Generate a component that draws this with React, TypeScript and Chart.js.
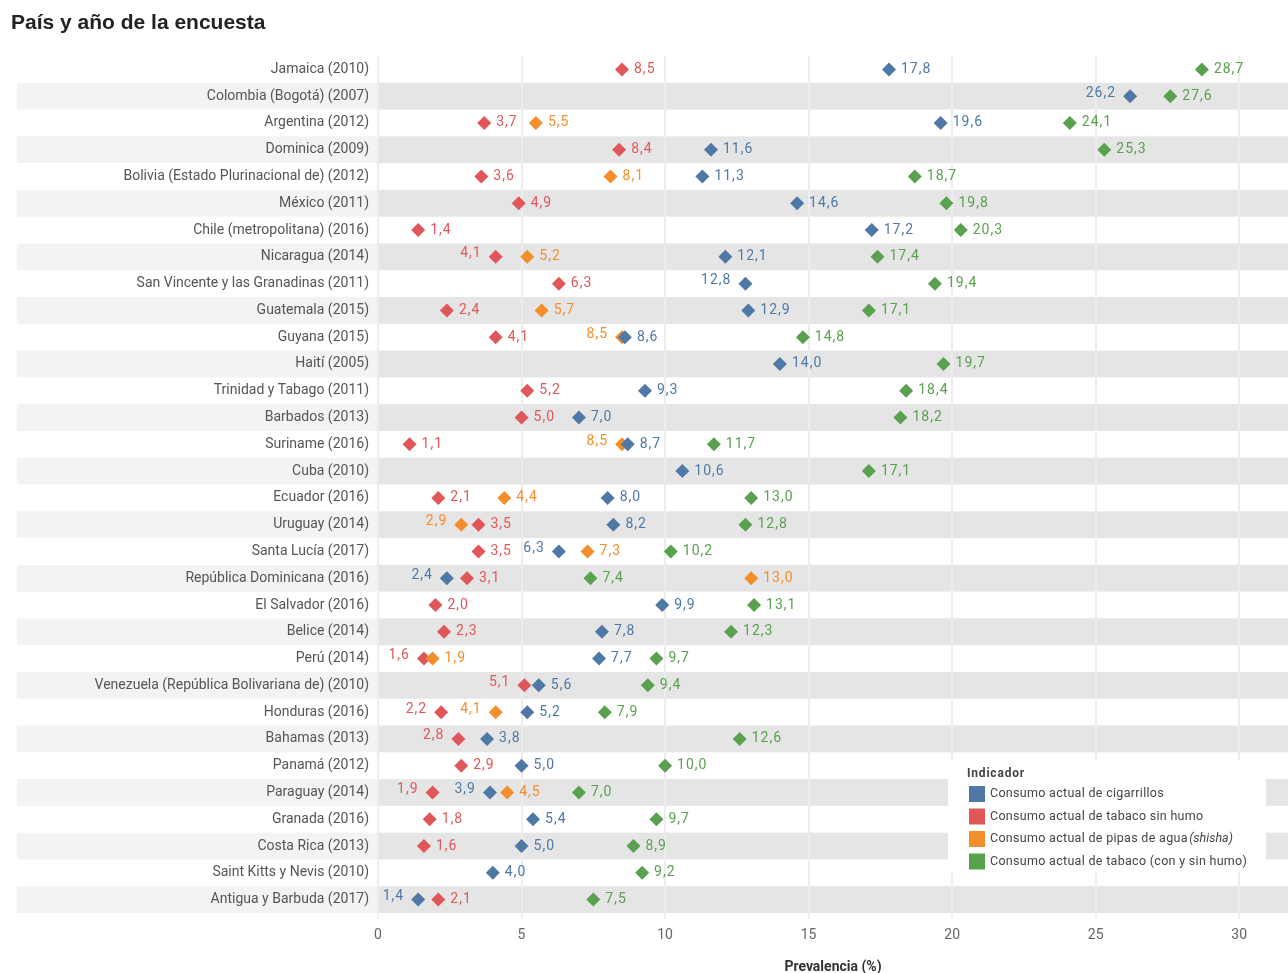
import { useEffect, useRef } from "react";
import { Chart, registerables } from "chart.js";

Chart.register(...registerables);

const countries = [
  "Jamaica (2010)",
  "Colombia (Bogotá) (2007)",
  "Argentina (2012)",
  "Dominica (2009)",
  "Bolivia (Estado Plurinacional de) (2012)",
  "México (2011)",
  "Chile (metropolitana) (2016)",
  "Nicaragua (2014)",
  "San Vincente y las Granadinas (2011)",
  "Guatemala (2015)",
  "Guyana (2015)",
  "Haití (2005)",
  "Trinidad y Tabago (2011)",
  "Barbados (2013)",
  "Suriname (2016)",
  "Cuba (2010)",
  "Ecuador (2016)",
  "Uruguay (2014)",
  "Santa Lucía (2017)",
  "República Dominicana (2016)",
  "El Salvador (2016)",
  "Belice (2014)",
  "Perú (2014)",
  "Venezuela (República Bolivariana de) (2010)",
  "Honduras (2016)",
  "Bahamas (2013)",
  "Panamá (2012)",
  "Paraguay (2014)",
  "Granada (2016)",
  "Costa Rica (2013)",
  "Saint Kitts y Nevis (2010)",
  "Antigua y Barbuda (2017)",
];

const cigarrillos = [
  17.8, 26.2, 19.6, 11.6, 11.3, 14.6, 17.2, 12.1, 12.8, 12.9, 8.6, 14.0, 9.3, 7.0, 8.7, 10.6,
  8.0, 8.2, 6.3, 2.4, 9.9, 7.8, 7.7, 5.6, 5.2, 3.8, 5.0, 3.9, 5.4, 5.0, 4.0, 1.4,
];

const tabacoSinHumo = [
  8.5, null, 3.7, 8.4, 3.6, 4.9, 1.4, 4.1, 6.3, 2.4, 4.1, null, 5.2, 5.0, 1.1, null,
  2.1, 3.5, 3.5, 3.1, 2.0, 2.3, 1.6, 5.1, 2.2, 2.8, 2.9, 1.9, 1.8, 1.6, null, 2.1,
];

const pipasDeAgua = [
  null, null, 5.5, null, 8.1, null, null, 5.2, null, 5.7, 8.5, null, null, null, 8.5, null,
  4.4, 2.9, 7.3, 13.0, null, null, 1.9, null, 4.1, null, null, 4.5, null, null, null, null,
];

const tabacoTotal = [
  28.7, 27.6, 24.1, 25.3, 18.7, 19.8, 20.3, 17.4, 19.4, 17.1, 14.8, 19.7, 18.4, 18.2, 11.7, 17.1,
  13.0, 12.8, 10.2, 7.4, 13.1, 12.3, 9.7, 9.4, 7.9, 12.6, 10.0, 7.0, 9.7, 8.9, 9.2, 7.5,
];

const xTicks = [0, 5, 10, 15, 20, 25, 30];

const seriesNames = [
  "Consumo actual de cigarrillos",
  "Consumo actual de tabaco sin humo",
  "Consumo actual de pipas de agua",
  "Consumo actual de tabaco (con y sin humo)",
];
const seriesColors = ["#4e79a7", "#e15759", "#f28e2b", "#59a14f"];

// rows whose value label sits on the left of the marker, per series
const leftCigarrillos = [
  "Colombia (Bogotá) (2007)",
  "San Vincente y las Granadinas (2011)",
  "Santa Lucía (2017)",
  "República Dominicana (2016)",
  "Paraguay (2014)",
  "Antigua y Barbuda (2017)",
];
const leftSinHumo = [
  "Nicaragua (2014)",
  "Perú (2014)",
  "Venezuela (República Bolivariana de) (2010)",
  "Honduras (2016)",
  "Bahamas (2013)",
  "Paraguay (2014)",
];
const leftPipas = ["Guyana (2015)", "Suriname (2016)", "Uruguay (2014)", "Honduras (2016)"];
const leftTotal: string[] = [];

const FONT = "Roboto, 'Noto Sans', sans-serif";

const bandsPlugin = {
  id: "bands",
  beforeDraw(chart: any) {
    const { ctx, chartArea, scales } = chart;
    const y = scales.y;
    const h = (chartArea.bottom - chartArea.top) / countries.length;
    ctx.save();
    countries.forEach((_c, i) => {
      if (i % 2 === 1) {
        const yc = y.getPixelForValue(i);
        ctx.fillStyle = "#f3f3f3";
        ctx.fillRect(17, yc - h / 2, chartArea.left - 17, h);
        ctx.fillStyle = "#e5e5e5";
        ctx.fillRect(chartArea.left, yc - h / 2, chartArea.right - chartArea.left, h);
      }
    });
    ctx.restore();
  },
};

const labelsPlugin = {
  id: "valueLabels",
  afterDatasetsDraw(chart: any) {
    const ctx = chart.ctx;
    const lefts = [leftCigarrillos, leftSinHumo, leftPipas, leftTotal];
    ctx.save();
    ctx.font = `14px ${FONT}`;
    (ctx as any).letterSpacing = "1px";
    ctx.textBaseline = "middle";
    chart.data.datasets.forEach((ds: any, di: number) => {
      const meta = chart.getDatasetMeta(di);
      ctx.fillStyle = ds.backgroundColor;
      meta.data.forEach((pt: any, i: number) => {
        const v = ds.data[i];
        if (v === null || v === undefined) return;
        const text = v.toFixed(1).replace(".", ",");
        const left = lefts[di].includes(countries[i]);
        if (left) {
          ctx.textAlign = "right";
          ctx.fillText(text, pt.x - 14, pt.y - 3);
        } else {
          ctx.textAlign = "left";
          ctx.fillText(text, pt.x + 12, pt.y);
        }
      });
    });
    ctx.restore();
  },
};

const decorPlugin = {
  id: "decor",
  afterDraw(chart: any) {
    const ctx = chart.ctx;
    ctx.save();
    // title
    ctx.fillStyle = "#222222";
    ctx.font = "bold 21px 'Liberation Sans', Arial, sans-serif";
    ctx.textBaseline = "middle";
    ctx.textAlign = "left";
    ctx.fillText("País y año de la encuesta", 11, 23);

    // legend
    ctx.fillStyle = "#ffffff";
    ctx.fillRect(948, 760, 318, 112);
    ctx.fillStyle = "#444444";
    ctx.font = `bold 12px ${FONT}`;
    (ctx as any).letterSpacing = "0.8px";
    ctx.fillText("Indicador", 967, 774);
    (ctx as any).letterSpacing = "0.3px";
    seriesNames.forEach((name, i) => {
      const yc = 794 + i * 22.5;
      ctx.fillStyle = seriesColors[i];
      ctx.fillRect(969, yc - 8, 16, 16);
      ctx.fillStyle = "#444444";
      ctx.font = `12.5px ${FONT}`;
      ctx.fillText(name, 990, yc);
      if (i === 2) {
        const w = ctx.measureText(name + " ").width;
        ctx.font = `italic 12.5px ${FONT}`;
        (ctx as any).letterSpacing = "0px";
        ctx.fillText("(shisha)", 990 + w - 2, yc);
        (ctx as any).letterSpacing = "0.3px";
      }
    });
    ctx.restore();
  },
};

export default function App() {
  const ref = useRef<HTMLCanvasElement | null>(null);

  useEffect(() => {
    if (!ref.current) return;
    const seriesData = [cigarrillos, tabacoSinHumo, pipasDeAgua, tabacoTotal];
    const orders = [1, 3, 2, 0];
    const chart = new Chart(ref.current, {
      type: "line",
      data: {
        labels: countries,
        datasets: seriesData.map((d, i) => ({
          label: seriesNames[i],
          data: d as any,
          showLine: false,
          pointStyle: "rectRot",
          pointRadius: 7,
          pointBorderWidth: 0,
          backgroundColor: seriesColors[i],
          borderColor: seriesColors[i],
          order: orders[i],
        })),
      },
      options: {
        indexAxis: "y",
        animation: false,
        responsive: false,
        events: [],
        layout: { autoPadding: false, padding: { top: 56, left: 0, right: 0, bottom: 0 } },
        plugins: {
          legend: { display: false },
          tooltip: { enabled: false },
          title: { display: false },
        },
        scales: {
          x: {
            type: "linear",
            min: 0,
            max: 31.7,
            afterBuildTicks: (scale: any) => {
              scale.ticks = xTicks.map((v) => ({ value: v }));
            },
            afterFit: (scale: any) => {
              scale.height = 60;
            },
            grid: {
              color: "#ededed",
              lineWidth: 2,
              drawTicks: true,
              tickLength: 6,
              tickColor: "#f0f0f0",
            },
            border: { display: false },
            ticks: {
              font: { family: "Roboto", size: 14 },
              color: "#666666",
              padding: 8,
              callback: (v: any) => String(v),
            },
            title: {
              display: true,
              text: "Prevalencia (%)",
              font: { family: "Roboto", size: 14, weight: "bold" },
              color: "#333333",
              padding: { top: 0, bottom: -3 },
            },
          },
          y: {
            type: "category",
            offset: true,
            afterFit: (scale: any) => {
              scale.width = 378;
            },
            grid: { display: false, drawTicks: false },
            border: { display: false },
            ticks: {
              autoSkip: false,
              font: { family: "Roboto", size: 14 },
              color: "#555555",
              padding: 9,
            },
          },
        },
      },
      plugins: [bandsPlugin, labelsPlugin, decorPlugin],
    });
    return () => chart.destroy();
  }, []);

  return (
    <div style={{ position: "absolute", left: 0, top: 0, width: 1288, height: 973 }}>
      <canvas ref={ref} width={1288} height={973} style={{ display: "block" }} />
    </div>
  );
}
